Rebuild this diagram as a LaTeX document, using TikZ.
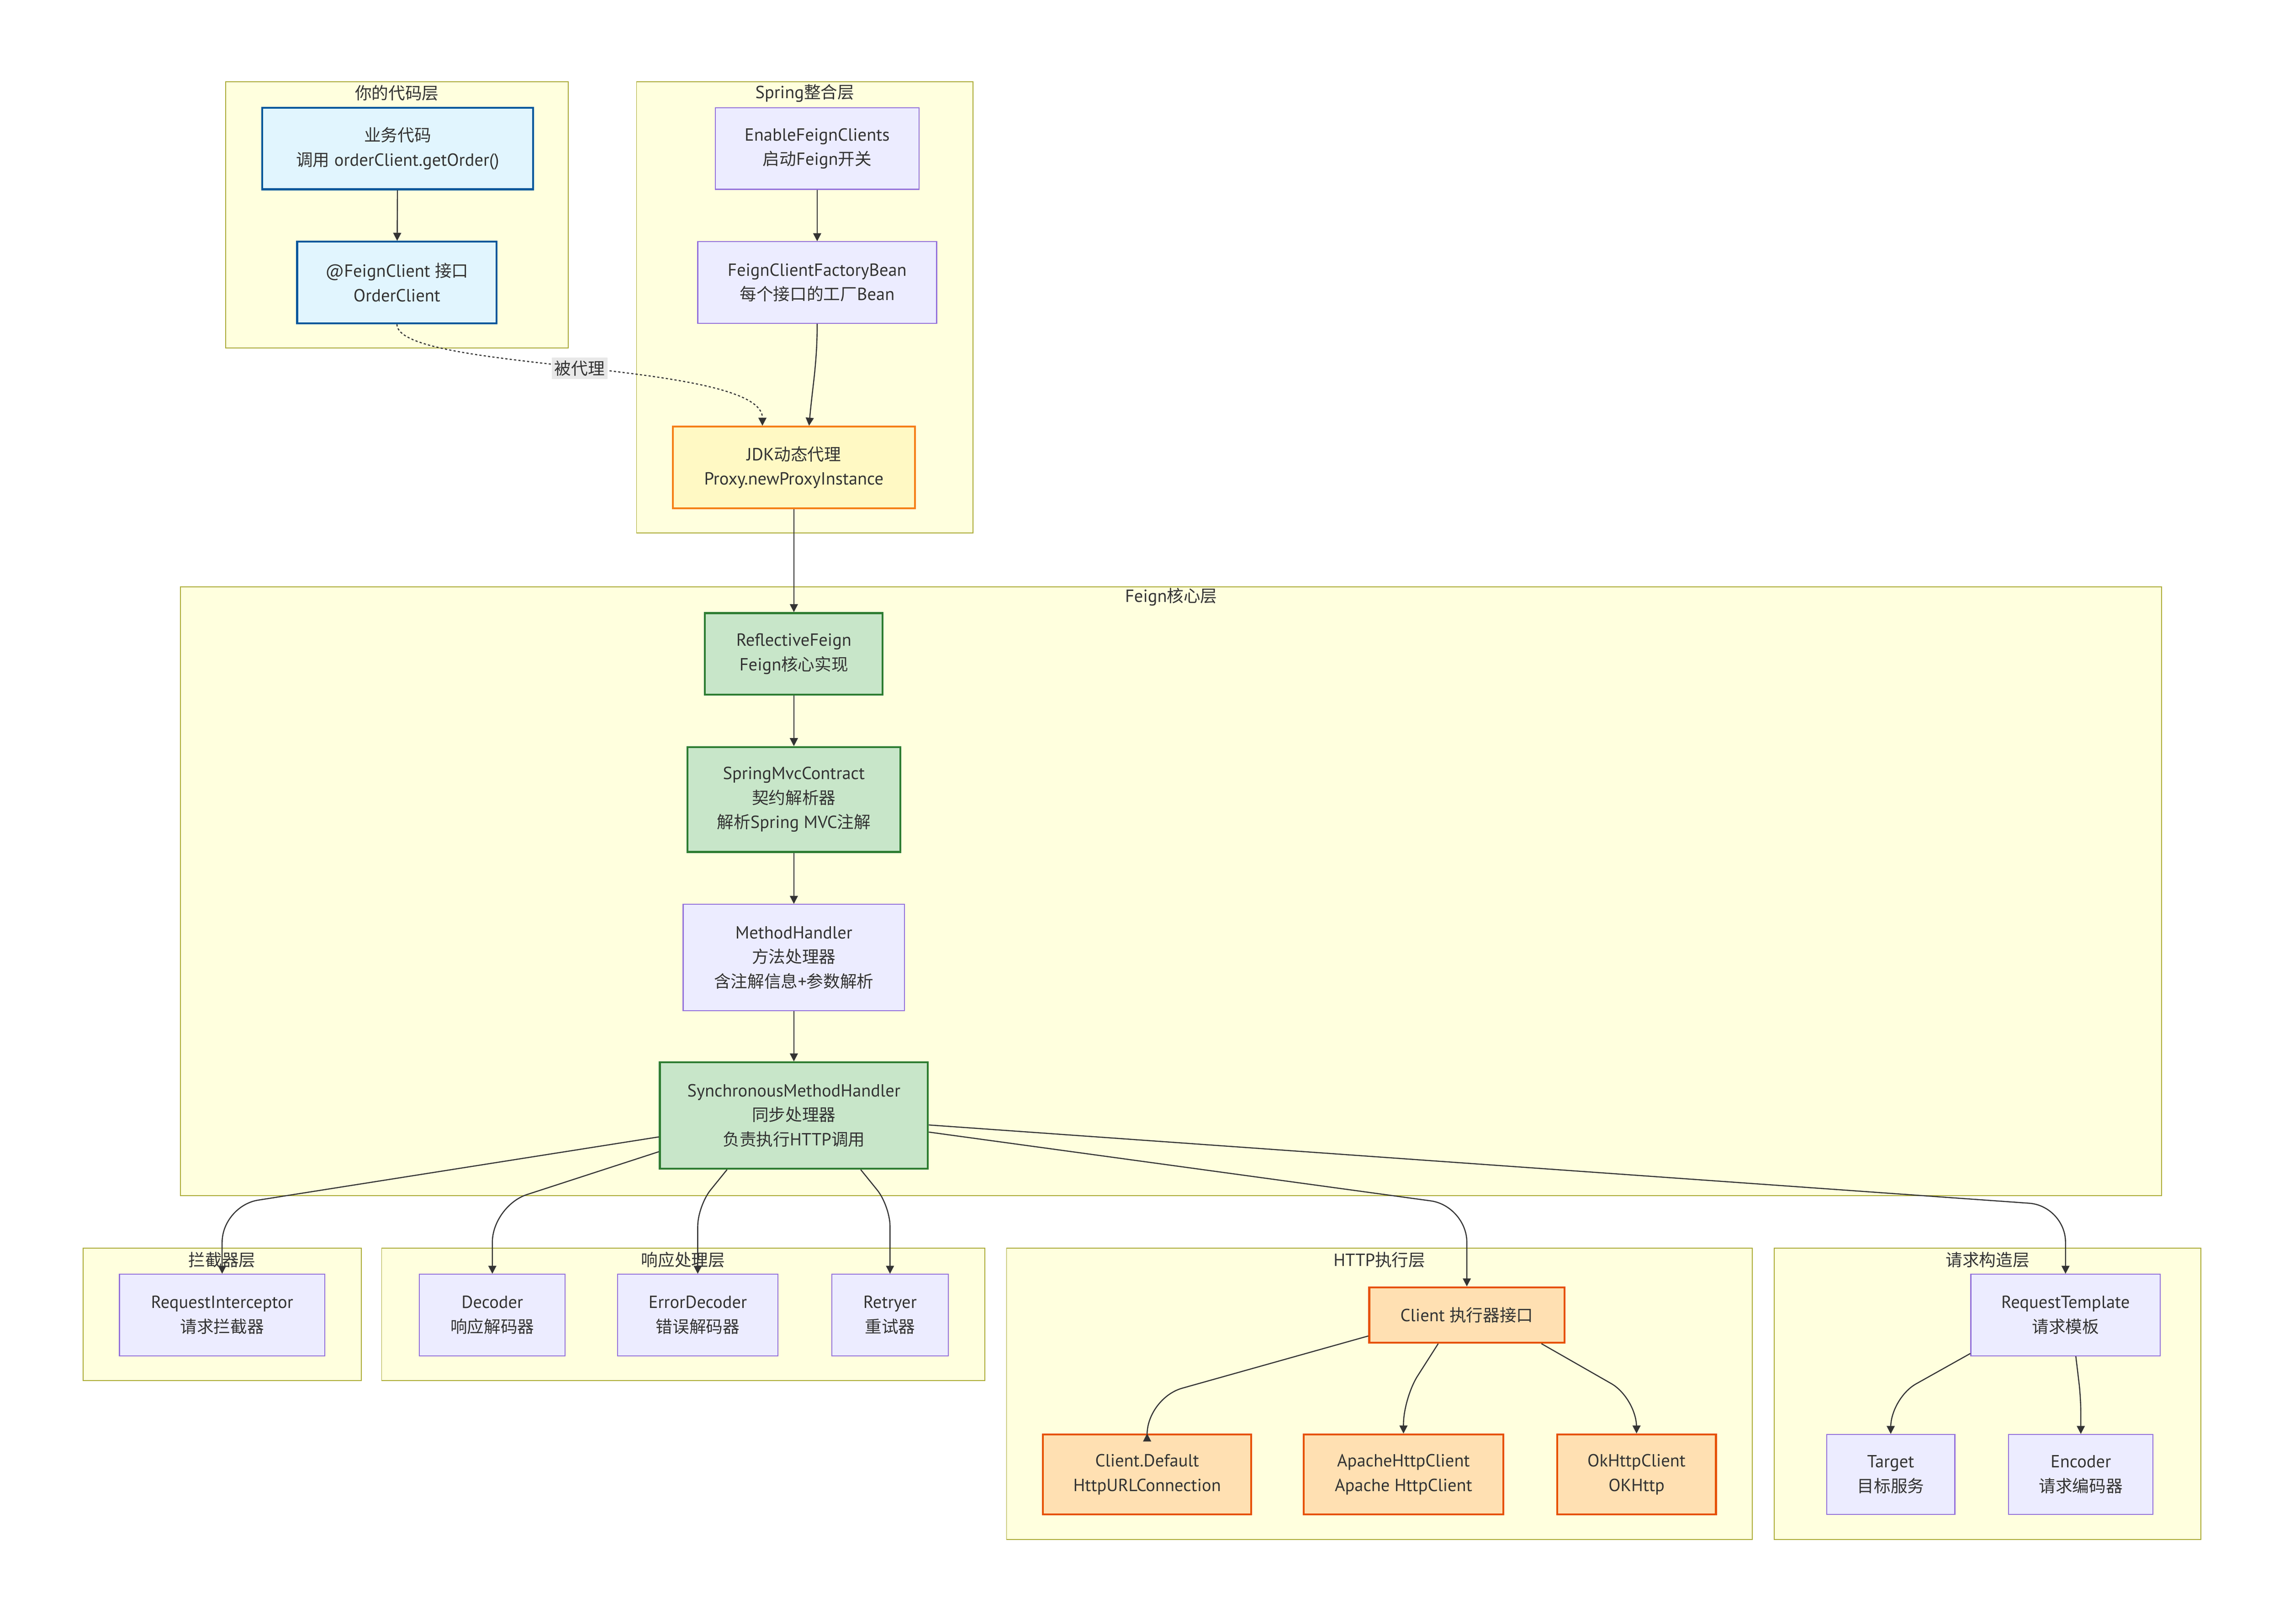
\documentclass[tikz,border=0pt]{standalone}
\usepackage{fontspec}
\setmainfont{PT Sans}[Scale=1.05]
\newfontfamily\cjk{Noto Sans CJK SC}
\usepackage{tikz}
\usetikzlibrary{arrows.meta}

\definecolor{tierfill}{HTML}{FFFFDE}
\definecolor{tierline}{HTML}{AAAA33}
\definecolor{boxfill}{HTML}{ECECFF}
\definecolor{boxline}{HTML}{9370DB}
\definecolor{codefill}{HTML}{E1F5FE}
\definecolor{codeline}{HTML}{01579B}
\definecolor{proxyfill}{HTML}{FFF9C4}
\definecolor{proxyline}{HTML}{F57F17}
\definecolor{corefill}{HTML}{C8E6C9}
\definecolor{coreline}{HTML}{2E7D32}
\definecolor{httpfill}{HTML}{FFE0B2}
\definecolor{httpline}{HTML}{E65100}
\definecolor{textc}{HTML}{333333}
\definecolor{lblfill}{HTML}{E8E8E8}

\begin{document}
\begin{tikzpicture}[x=1pt,y=1pt,
  every node/.style={font=\fontsize{11.5pt}{16.8pt}\selectfont,text=textc},
  tier/.style={draw=tierline,fill=tierfill,line width=0.6pt},
  box/.style={draw=boxline,fill=boxfill,line width=0.7pt,align=center,inner sep=0pt,minimum height=56pt},
  codebox/.style={box,draw=codeline,fill=codefill,line width=1.3pt},
  proxybox/.style={box,draw=proxyline,fill=proxyfill,line width=1.3pt},
  corebox/.style={box,draw=coreline,fill=corefill,line width=1.3pt},
  httpbox/.style={box,draw=httpline,fill=httpfill,line width=1.3pt},
  flow/.style={draw=textc,line width=0.75pt,-{Triangle[length=5.5pt,width=5.5pt]}},
  proxied/.style={flow,dash pattern=on 1.5pt off 1.5pt},
  lbl/.style={fill=lblfill,inner sep=2pt}]
  \useasboundingbox (0,0) rectangle (1568,-1115);

  \draw[tier] (155,-56) rectangle (390,-239);
  \node (codeT) at (272.5,-64) {\cjk 你的代码层};
  \draw[tier] (437,-56) rectangle (668,-366);
  \node (springT) at (552.5,-64) {Spring{\cjk 整合层}};
  \draw[tier] (124,-403) rectangle (1484,-821);
  \node (coreT) at (804,-410) {Feign{\cjk 核心层}};
  \draw[tier] (57,-857) rectangle (248,-948);
  \node (interT) at (152.5,-865) {\cjk 拦截器层};
  \draw[tier] (262,-857) rectangle (676,-948);
  \node (respT) at (469,-865) {\cjk 响应处理层};
  \draw[tier] (691,-857) rectangle (1203,-1057);
  \node (httpT) at (947,-865) {HTTP{\cjk 执行层}};
  \draw[tier] (1218,-857) rectangle (1511,-1057);
  \node (reqT) at (1364.5,-865) {\cjk 请求构造层};

  \node[codebox,minimum width=186pt] (biz) at (273,-102) {{\cjk 业务代码}\\{\cjk 调用} orderClient.getOrder()};
  \node[codebox,minimum width=137pt] (iface) at (272.5,-194) {@FeignClient {\cjk 接口}\\OrderClient};
  \node[box,minimum width=140pt] (enable) at (561,-102) {EnableFeignClients\\{\cjk 启动}Feign{\cjk 开关}};
  \node[box,minimum width=164pt] (factory) at (561,-194) {FeignClientFactoryBean\\{\cjk 每个接口的工厂}Bean};
  \node[proxybox,minimum width=166pt] (proxy) at (545,-321) {JDK{\cjk 动态代理}\\Proxy.newProxyInstance};
  \node[corebox,minimum width=122pt] (reflective) at (545,-449) {ReflectiveFeign\\Feign{\cjk 核心实现}};
  \node[corebox,minimum width=146pt,minimum height=72pt] (contract) at (545,-549) {SpringMvcContract\\{\cjk 契约解析器}\\{\cjk 解析}Spring MVC{\cjk 注解}};
  \node[box,minimum width=152pt,minimum height=73pt] (handler) at (545,-657.5) {MethodHandler\\{\cjk 方法处理器}\\{\cjk 含注解信息}+{\cjk 参数解析}};
  \node[corebox,minimum width=184pt,minimum height=73pt] (sync) at (545,-766) {SynchronousMethodHandler\\{\cjk 同步处理器}\\{\cjk 负责执行}HTTP{\cjk 调用}};
  \node[box,minimum width=141pt] (interceptor) at (152.5,-903) {RequestInterceptor\\{\cjk 请求拦截器}};
  \node[box,minimum width=100pt] (decoder) at (338,-903) {Decoder\\{\cjk 响应解码器}};
  \node[box,minimum width=110pt] (errdecoder) at (479,-903) {ErrorDecoder\\{\cjk 错误解码器}};
  \node[box,minimum width=80pt] (retryer) at (611,-903) {Retryer\\{\cjk 重试器}};
  \node[httpbox,minimum width=134pt,minimum height=38pt] (client) at (1007,-903) {Client {\cjk 执行器接口}};
  \node[httpbox,minimum width=143pt,minimum height=55pt] (urlconn) at (787.5,-1012.5) {Client.Default\\HttpURLConnection};
  \node[httpbox,minimum width=137pt,minimum height=55pt] (apache) at (963.5,-1012.5) {ApacheHttpClient\\Apache HttpClient};
  \node[httpbox,minimum width=109pt,minimum height=55pt] (okhttp) at (1123.5,-1012.5) {OkHttpClient\\OKHttp};
  \node[box,minimum width=130pt] (template) at (1418,-903) {RequestTemplate\\{\cjk 请求模板}};
  \node[box,minimum width=88pt,minimum height=55pt] (target) at (1298,-1012.5) {Target\\{\cjk 目标服务}};
  \node[box,minimum width=99pt,minimum height=55pt] (encoder) at (1428.5,-1012.5) {Encoder\\{\cjk 请求编码器}};

  \coordinate (bendA) at (0,-828);
  \coordinate (bendB) at (0,-960);

  \draw[flow] (biz) -- (iface);
  \draw[flow] (enable) -- (factory);
  \draw[flow] (factory.south) to[out=-90,in=85] (proxy.70);
  \draw[proxied] (iface.south) to[out=-90,in=90,out looseness=0.32,in looseness=0.44] node[lbl] {\cjk 被代理} (proxy.127);
  \draw[flow] (proxy) -- (reflective);
  \draw[flow] (reflective) -- (contract);
  \draw[flow] (contract) -- (handler);
  \draw[flow] (handler) -- (sync);

  \draw[flow,rounded corners=25pt] (sync.189) -- (interceptor |- bendA) -- (interceptor.north);
  \draw[flow,rounded corners=25pt] (sync.195) -- (decoder |- bendA) -- (decoder.north);
  \draw[flow,rounded corners=14pt] (sync.219) -- (errdecoder |- bendA) -- (errdecoder.north);
  \draw[flow,rounded corners=14pt] (sync.321) -- (retryer |- bendA) -- (retryer.north);
  \draw[flow,rounded corners=25pt] (sync.353) -- (client |- bendA) -- (client.north);
  \draw[flow,rounded corners=25pt] (sync.356) -- (template |- bendA) -- (template.north);

  \draw[flow,rounded corners=25pt] (client.192) -- (urlconn |- bendB) -- (urlconn.north);
  \draw[flow,rounded corners=18pt] (client.225) -- (apache |- bendB) -- (apache.north);
  \draw[flow,rounded corners=20pt] (client.339) -- (okhttp |- bendB) -- (okhttp.north);
  \draw[flow,rounded corners=20pt] (template.202) -- (target |- bendB) -- (target.north);
  \draw[flow,rounded corners=10pt] (template.284) -- (encoder |- bendB) -- (encoder.north);
\end{tikzpicture}
\end{document}
